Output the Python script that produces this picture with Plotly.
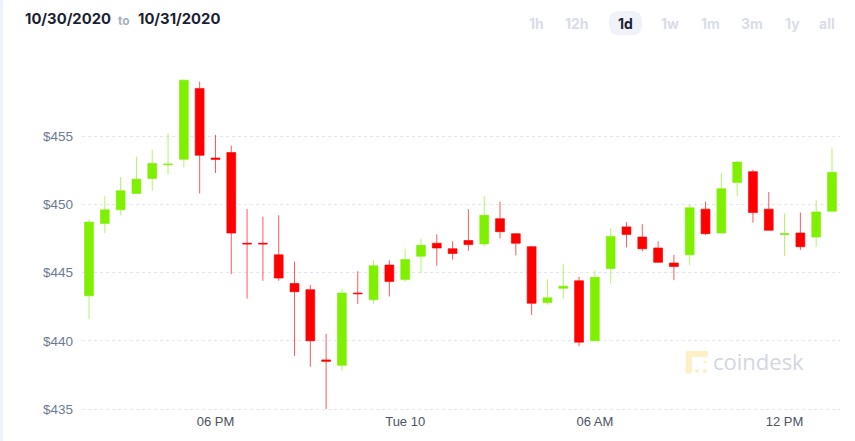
import plotly.graph_objects as go
import pandas as pd

# ---- data (30-minute candles) ----
start_time = "2020-10-30 14:00"
n_candles = 48
opens = [443.3, 448.6, 449.6, 450.8, 451.9, 452.9, 453.3, 458.5, 453.4, 453.8,
         447.15, 447.15, 446.3, 444.2, 443.75, 438.6, 438.2, 443.5, 443.0, 445.55,
         444.5, 446.2, 447.15, 446.75, 447.35, 447.1, 448.95, 447.85, 446.9, 442.8,
         443.85, 444.4, 440.0, 445.3, 448.35, 447.6, 446.8, 445.7, 446.3, 449.65,
         447.9, 451.6, 452.4, 449.65, 447.8, 447.9, 447.6, 449.5]
highs = [448.9, 450.6, 452.0, 453.5, 454.0, 455.2, 459.15, 459.0, 455.1, 454.3,
         449.65, 449.1, 449.2, 445.8, 444.1, 440.5, 443.8, 445.1, 445.9, 445.9,
         446.75, 447.5, 447.8, 447.3, 449.65, 450.6, 450.2, 447.9, 446.95, 444.5,
         445.6, 444.7, 445.15, 448.25, 448.7, 448.55, 447.3, 446.3, 450.0, 450.2,
         452.3, 453.2, 452.55, 450.9, 449.35, 449.4, 450.3, 454.1]
lows = [441.6, 447.9, 449.2, 450.8, 451.0, 452.2, 452.7, 450.8, 452.3, 444.9,
        443.1, 444.4, 444.4, 438.9, 438.1, 435.0, 437.8, 442.7, 442.7, 443.25,
        444.3, 444.95, 445.5, 445.95, 446.6, 446.9, 447.5, 446.25, 441.9, 442.65,
        443.1, 439.6, 440.0, 444.2, 446.85, 446.55, 445.7, 444.45, 445.55, 447.75,
        447.9, 450.6, 448.65, 448.1, 446.2, 446.65, 446.9, 449.5]
closes = [448.7, 449.6, 451.0, 451.85, 453.0, 452.95, 459.1, 453.6, 453.3, 447.9,
          447.1, 447.1, 444.6, 443.6, 440.0, 438.5, 443.5, 443.45, 445.5, 444.35,
          445.95, 447.0, 446.8, 446.4, 447.05, 449.2, 448.0, 447.15, 442.75, 443.15,
          444.0, 439.9, 444.65, 447.65, 447.8, 446.75, 445.75, 445.45, 449.75, 447.85,
          451.15, 453.1, 449.4, 448.1, 447.85, 446.9, 449.45, 452.35]

y_ticks = [435, 440, 445, 450, 455]
y_tick_labels = ["$435", "$440", "$445", "$450", "$455"]
x_tick_times = ["2020-10-30 18:00", "2020-10-31 00:00", "2020-10-31 06:00", "2020-10-31 12:00"]
x_tick_labels = ["06 PM", "Tue 10", "06 AM", "12 PM"]
range_buttons = ["1h", "12h", "1d", "1w", "1m", "3m", "1y", "all"]
active_button = "1d"
date_from = "10/30/2020"
date_to = "10/31/2020"

times = pd.date_range(start_time, periods=n_candles, freq="30min")

W, H = 855, 441
ML, MR, MT, MB = 82, 15, 61, 29
PW, PH = W - ML - MR, H - MT - MB


def px(x):
    return (x - ML) / PW


def py(y):
    return (H - MB - y) / PH


fig = go.Figure()
fig.add_trace(go.Candlestick(
    x=times, open=opens, high=highs, low=lows, close=closes,
    increasing=dict(fillcolor="#7ff000", line=dict(color="rgba(127,240,0,0.6)", width=1)),
    decreasing=dict(fillcolor="#ff0000", line=dict(color="rgba(255,0,0,0.65)", width=1)),
    whiskerwidth=0,
    showlegend=False,
    hoverinfo="skip",
))

x0 = times[0] - pd.Timedelta(minutes=13.3)
x1 = times[-1] + pd.Timedelta(minutes=15.2)

fig.update_layout(
    width=W, height=H,
    margin=dict(l=ML, r=MR, t=MT, b=MB),
    paper_bgcolor="white", plot_bgcolor="white",
    font=dict(family="Liberation Sans, Arial, sans-serif"),
    xaxis=dict(
        type="date", range=[x0, x1], rangeslider=dict(visible=False),
        showgrid=False, zeroline=False, showline=False, ticks="",
        tickvals=x_tick_times, ticktext=x_tick_labels,
        tickfont=dict(size=13, color="#4c5363", family="Liberation Sans, Arial, sans-serif"),
        fixedrange=True,
    ),
    yaxis=dict(
        range=[434.78, 460.51],
        tickvals=y_ticks, ticktext=y_tick_labels,
        showgrid=True, gridcolor="#e2e6f2", gridwidth=1, griddash="dot",
        zeroline=False, showline=False, ticks="",
        ticklabelstandoff=8,
        tickfont=dict(size=13.5, color="#6c7a92", family="Liberation Sans, Arial, sans-serif"),
        fixedrange=True,
    ),
    boxgap=0.2,
)

shapes = []
# left light strip
shapes.append(dict(type="rect", xref="paper", yref="paper",
                   x0=px(0), x1=px(3), y0=py(H), y1=py(0),
                   fillcolor="#eef3f9", line=dict(width=0), layer="below"))
# active range button pill
bx0, bx1, by0, by1, r = 609, 642, 11, 35, 10
path = (f"M {px(bx0 + r)},{py(by0)} L {px(bx1 - r)},{py(by0)} "
        f"Q {px(bx1)},{py(by0)} {px(bx1)},{py(by0 + r)} L {px(bx1)},{py(by1 - r)} "
        f"Q {px(bx1)},{py(by1)} {px(bx1 - r)},{py(by1)} L {px(bx0 + r)},{py(by1)} "
        f"Q {px(bx0)},{py(by1)} {px(bx0)},{py(by1 - r)} L {px(bx0)},{py(by0 + r)} "
        f"Q {px(bx0)},{py(by0)} {px(bx0 + r)},{py(by0)} Z")
shapes.append(dict(type="path", xref="paper", yref="paper", path=path,
                   fillcolor="#eff3f9", line=dict(width=0), layer="below"))
# coindesk logo (dotted square)
logo_color = "#fdefc6"
for (cx, cy, rr) in [(689, 354, 3.6), (697, 354, 3.6), (705, 354, 3.6),
                     (689, 362, 3.6), (689, 370, 3.6),
                     (697, 371, 2.0), (705, 371, 2.0), (705, 362, 1.6)]:
    shapes.append(dict(type="circle", xref="paper", yref="paper",
                       x0=px(cx - rr), x1=px(cx + rr), y0=py(cy + rr), y1=py(cy - rr),
                       fillcolor=logo_color, line=dict(width=0), layer="below"))
shapes.append(dict(type="rect", xref="paper", yref="paper",
                   x0=px(686), x1=px(692), y0=py(372), y1=py(352),
                   fillcolor=logo_color, line=dict(width=0), layer="below"))
shapes.append(dict(type="rect", xref="paper", yref="paper",
                   x0=px(688), x1=px(707), y0=py(357), y1=py(351),
                   fillcolor=logo_color, line=dict(width=0), layer="below"))
fig.update_layout(shapes=shapes)

ann = []
hdr_font = "Inter, Roboto, sans-serif"
ann.append(dict(text=f"<b>{date_from}</b>", x=px(23), y=py(19), xref="paper", yref="paper",
                xanchor="left", yanchor="middle", showarrow=False,
                font=dict(size=14.8, color="#1b1f33", family=hdr_font)))
ann.append(dict(text="<b>to</b>", x=px(116), y=py(20), xref="paper", yref="paper",
                xanchor="left", yanchor="middle", showarrow=False,
                font=dict(size=12, color="#a9b0c0", family=hdr_font)))
ann.append(dict(text=f"<b>{date_to}</b>", x=px(136), y=py(19), xref="paper", yref="paper",
                xanchor="left", yanchor="middle", showarrow=False,
                font=dict(size=14.8, color="#1b1f33", family=hdr_font)))
btn_x = [536, 577, 625, 670, 710, 752, 792, 827]
for label, bx in zip(range_buttons, btn_x):
    active = label == active_button
    ann.append(dict(text=f"<b>{label}</b>", x=px(bx), y=py(23), xref="paper", yref="paper",
                    xanchor="center", yanchor="middle", showarrow=False,
                    font=dict(size=14, color="#1b1f33" if active else "#d9dde7", family=hdr_font)))
ann.append(dict(text="coindesk", x=px(711), y=py(361), xref="paper", yref="paper",
                xanchor="left", yanchor="middle", showarrow=False,
                font=dict(size=22, color="#d3d6de", family="Open Sans, Lato, sans-serif")))
fig.update_layout(annotations=ann)

fig.write_html("out.html")
